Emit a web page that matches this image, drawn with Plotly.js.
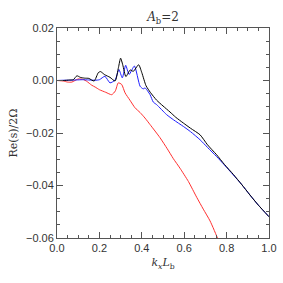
<!DOCTYPE html>
<html><head><meta charset="utf-8">
<script src="https://cdn.plot.ly/plotly-3.0.1.min.js"></script>
<style>body{margin:0;padding:0;background:#fff}#c{width:283px;height:283px}</style>
</head><body><div id="c"></div>
<script>
const kxBlack = [0, 0.03, 0.06, 0.077, 0.094, 0.11, 0.13, 0.15, 0.175, 0.195, 0.205, 0.225, 0.25, 0.274, 0.29, 0.30, 0.31, 0.325, 0.345, 0.36, 0.385, 0.40, 0.42, 0.44, 0.47, 0.50, 0.533, 0.56, 0.596, 0.63, 0.675, 0.71, 0.753, 0.79, 0.832, 0.87, 0.91, 0.95, 1.0];
const reBlack = [0, 0, 0.0002, 0.0003, 0.0018, 0.0012, 0.0009, 0.0008, -0.0002, 0.003, 0.0034, 0.0022, 0.0012, -0.0002, 0.005, 0.0085, 0.006, 0.0015, 0.004, 0.0035, 0.006, 0.003, -0.002, -0.0045, -0.0075, -0.0097, -0.012, -0.014, -0.0162, -0.0182, -0.0207, -0.0245, -0.0283, -0.032, -0.0358, -0.0395, -0.0436, -0.0475, -0.0519];

const kxBlue = [0, 0.03, 0.06, 0.09, 0.12, 0.15, 0.179, 0.2, 0.226, 0.25, 0.274, 0.292, 0.308, 0.324, 0.34, 0.365, 0.392, 0.407, 0.415, 0.439, 0.454, 0.47, 0.517, 0.55, 0.596, 0.63, 0.675, 0.71, 0.753, 0.79, 0.832, 0.87, 0.91, 0.95, 1.0];
const reBlue = [0, 0.0001, 0.0001, 0.0002, 0.0003, 0.0002, 0.0001, 0.0003, 0.0016, -0.0009, 0.0002, 0.0042, 0.001, 0.0058, 0.0023, 0.0055, -0.0022, -0.0032, -0.0028, -0.0054, -0.0082, -0.0092, -0.013, -0.015, -0.0175, -0.0195, -0.0226, -0.0255, -0.029, -0.0322, -0.036, -0.0395, -0.0436, -0.0475, -0.0519];

const kxRed = [0, 0.03, 0.05, 0.07, 0.1, 0.124, 0.14, 0.164, 0.18, 0.2, 0.23, 0.258, 0.275, 0.289, 0.305, 0.321, 0.344, 0.368, 0.392, 0.415, 0.439, 0.486, 0.52, 0.549, 0.58, 0.62, 0.659, 0.69, 0.722, 0.761, 0.78];
const reRed = [0, -0.0002, -0.0006, -0.0006, 0.0006, 0.0004, -0.0003, -0.0018, -0.0025, -0.0035, -0.0045, -0.0054, -0.004, -0.0009, -0.0015, -0.0047, -0.0075, -0.0104, -0.0122, -0.0143, -0.0168, -0.0218, -0.026, -0.0298, -0.0334, -0.0385, -0.0445, -0.049, -0.0535, -0.0608, -0.065];

const titleText = '<i>A</i><sub>b</sub>=2';
const xTitle = '<i>k</i><sub><i>x</i></sub><i>L</i><sub>b</sub>';
const yTitle = 'Re(s)/2Ω';

const traces = [
  {x: kxRed, y: reRed, mode: 'lines', line: {color: '#ff3030', width: 1, shape: 'spline', smoothing: 0.6}},
  {x: kxBlue, y: reBlue, mode: 'lines', line: {color: '#2020ff', width: 1, shape: 'spline', smoothing: 0.6}},
  {x: kxBlack, y: reBlack, mode: 'lines', line: {color: '#000000', width: 1, shape: 'spline', smoothing: 0.6}}
];

const axisCommon = {
  showgrid: false, zeroline: false, showline: true, linecolor: '#555', linewidth: 1,
  mirror: 'ticks', ticks: 'inside', ticklen: 6, tickcolor: '#555', tickwidth: 1,
  tickfont: {family: 'Liberation Sans, Arial, sans-serif', size: 11, color: '#333'}
};

const layout = {
  width: 283, height: 283,
  margin: {l: 57, r: 14, t: 28, b: 45},
  paper_bgcolor: '#fff', plot_bgcolor: '#fff',
  showlegend: false,
  title: {text: titleText, x: 0.576, xanchor: 'center', y: 0.94, yanchor: 'middle',
          font: {family: 'DejaVu Serif, serif', size: 12, color: '#333'}},
  xaxis: Object.assign({}, axisCommon, {
    range: [0, 1], dtick: 0.2, tick0: 0, tickformat: '.1f',
    minor: {dtick: 0.05, ticks: 'inside', ticklen: 3, tickcolor: '#555', showgrid: false},
    title: {text: xTitle, standoff: 5, font: {family: 'DejaVu Serif, serif', size: 11, color: '#333'}}
  }),
  yaxis: Object.assign({}, axisCommon, {
    range: [-0.06, 0.02], dtick: 0.02, tick0: 0, tickformat: '.2f',
    minor: {dtick: 0.005, ticks: 'inside', ticklen: 3, tickcolor: '#555', showgrid: false},
    title: {text: yTitle, standoff: 6, font: {family: 'DejaVu Serif, serif', size: 11, color: '#333'}}
  })
};

Plotly.newPlot('c', traces, layout, {displayModeBar: false, staticPlot: true});
</script></body></html>
